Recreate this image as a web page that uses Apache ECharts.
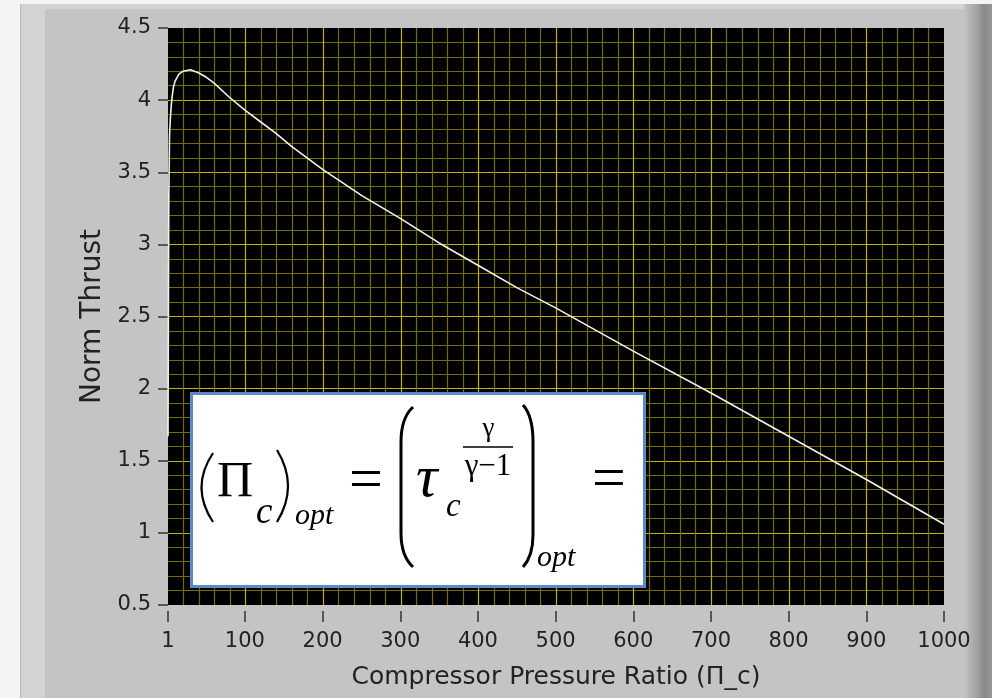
<!DOCTYPE html>
<html>
<head>
<meta charset="utf-8">
<title>Norm Thrust vs Compressor Pressure Ratio</title>
<script src="https://cdn.jsdelivr.net/npm/echarts@6/dist/echarts.min.js"></script>
<style>
  html, body { margin: 0; padding: 0; background: #f4f4f4; }
  #chart { width: 992px; height: 698px; }
</style>
</head>
<body>
<div id="chart"></div>
<script>
// values
const pressureRatio = [1, 2, 3, 4, 5, 6, 8, 10, 15, 20, 30, 40, 50, 60, 80, 100, 120, 140, 160, 180,
  200, 250, 300, 350, 400, 450, 500, 600, 700, 800, 900, 1000]
const normThrust = [1.67, 3.31, 3.76, 3.87, 3.95, 4.01, 4.09, 4.13, 4.18, 4.2, 4.21, 4.19, 4.16, 4.12, 4.02, 3.93, 3.85, 3.77, 3.68, 3.6,
  3.52, 3.34, 3.18, 3.01, 2.855, 2.7, 2.56, 2.26, 1.97, 1.67, 1.37, 1.06]
const xTickValues = [1, 100, 200, 300, 400, 500, 600, 700, 800, 900, 1000]

const chart = echarts.init(document.getElementById('chart'))

const majorGrid = '#bdb400'
const minorGrid = '#736d00'
const labelFont = 'DejaVu Sans'
const mathFont = 'Liberation Serif'

// panel frame behind the plot
const panel = [
  { type: 'rect', z: -10, silent: true, shape: { x: 20, y: 4, width: 972, height: 694 }, style: { fill: '#c4c4c4' } },
  { type: 'rect', z: -9, silent: true, shape: { x: 20, y: 4, width: 25, height: 694 }, style: { fill: '#d3d3d3' } },
  { type: 'rect', z: -9, silent: true, shape: { x: 20, y: 4, width: 1, height: 694 }, style: { fill: '#b8b8b8' } },
  { type: 'rect', z: -9, silent: true, shape: { x: 45, y: 4, width: 922, height: 5 }, style: { fill: '#d4d4d4' } },
  {
    type: 'rect', z: -9, silent: true,
    shape: { x: 964, y: 4, width: 28, height: 694 },
    style: {
      fill: new echarts.graphic.LinearGradient(0, 0, 1, 0, [
        { offset: 0, color: '#c4c4c4' },
        { offset: 0.55, color: '#9a9a9a' },
        { offset: 0.7, color: '#8a8a8a' },
        { offset: 1, color: '#979797' },
      ]),
    },
  },
]

// formula overlay
function mathText(text, x, y, size, italic, align) {
  return {
    type: 'text', z: 101, silent: true, x, y,
    style: {
      text, fill: '#000',
      fontFamily: mathFont, fontSize: size, fontStyle: italic ? 'italic' : 'normal',
      align: align || 'left', verticalAlign: 'middle',
    },
  }
}
const penStyle = (w) => ({ fill: null, stroke: '#000', lineWidth: w })
function curve(x1, y1, cx, cy, x2, y2, w) {
  return { type: 'bezierCurve', z: 101, silent: true, shape: { x1, y1, cpx1: cx, cpy1: cy, x2, y2 }, style: penStyle(w) }
}
function stroke(x1, y1, x2, y2, w) {
  return { type: 'line', z: 101, silent: true, shape: { x1, y1, x2, y2 }, style: penStyle(w) }
}

const formula = [
  { type: 'rect', z: 100, silent: true, shape: { x: 191.5, y: 393.5, width: 453, height: 193 }, style: { fill: '#fff', stroke: '#5a8ac8', lineWidth: 3 } },
  curve(213, 453, 190, 487.5, 213, 522, 2.2),
  mathText('Π', 217, 483, 50, false),
  mathText('c', 256, 513, 37, true),
  curve(277, 450, 299, 486, 277, 522, 2.2),
  mathText('opt', 295, 516, 30, true),
  mathText('=', 349, 482, 60, false),
  curve(413, 407, 401, 418, 401, 442, 3),
  stroke(401, 442, 401, 533, 3),
  curve(401, 533, 401, 556, 413, 567, 3),
  mathText('τ', 416, 480, 60, true),
  mathText('c', 446, 507, 33, true),
  mathText('γ', 488.5, 429, 27, false, 'center'),
  stroke(463, 447, 513, 447, 1.5),
  mathText('γ−1', 488, 467, 31, false, 'center'),
  curve(523, 405, 533, 416, 533, 442, 3),
  stroke(533, 442, 533, 535, 3),
  curve(533, 535, 533, 556, 523, 567, 3),
  mathText('opt', 537, 558, 30, true),
  mathText('=', 592, 481, 60, false),
]

const option = {
  backgroundColor: '#f4f4f4',
  animation: false,
  grid: {
    left: 168,
    right: 48,
    top: 28,
    bottom: 93,
    show: true,
    backgroundColor: '#000',
    borderWidth: 0,
  },
  xAxis: [
    {
      type: 'value',
      min: 1,
      max: 1000,
      offset: 6,
      name: 'Compressor Pressure Ratio (Π_c)',
      nameLocation: 'middle',
      nameGap: 54,
      nameTextStyle: { fontFamily: labelFont, fontSize: 25, color: '#222' },
      axisLine: { show: false },
      axisTick: { customValues: xTickValues, length: 11, lineStyle: { color: '#333', width: 1.5 } },
      axisLabel: {
        customValues: xTickValues, margin: 20, fontFamily: labelFont, fontSize: 21, color: '#222',
        formatter: (v) => String(v),
      },
      splitLine: { show: false },
    },
    {
      // grid lines only: bright every 100, dim every 20
      type: 'value',
      min: 0,
      max: 1000,
      interval: 100,
      axisLine: { show: false },
      axisTick: { show: false },
      axisLabel: { show: false },
      splitLine: { show: true, showMinLine: false, showMaxLine: false, lineStyle: { color: majorGrid, width: 1.2 } },
      minorTick: { show: false, splitNumber: 5 },
      minorSplitLine: { show: true, lineStyle: { color: minorGrid, width: 1.2 } },
    },
  ],
  yAxis: {
    type: 'value',
    min: 0.5,
    max: 4.5,
    interval: 0.5,
    offset: 4,
    name: 'Norm Thrust',
    nameLocation: 'middle',
    nameRotate: 90,
    nameGap: 57,
    nameTextStyle: { fontFamily: labelFont, fontSize: 28, color: '#222' },
    axisLine: { show: false },
    axisTick: { length: 10, lineStyle: { color: '#333', width: 1.5 } },
    axisLabel: { margin: 13, fontFamily: labelFont, fontSize: 21, color: '#222' },
    splitLine: { show: true, showMinLine: false, showMaxLine: false, lineStyle: { color: majorGrid, width: 1.2 } },
    minorTick: { show: false, splitNumber: 5 },
    minorSplitLine: { show: true, lineStyle: { color: minorGrid, width: 1.2 } },
  },
  series: [
    {
      type: 'line',
      xAxisIndex: 0,
      data: pressureRatio.map((p, i) => [p, normThrust[i]]),
      showSymbol: false,
      smooth: false,
      clip: true,
      lineStyle: { color: '#f2f2f2', width: 1.6 },
    },
  ],
  graphic: { elements: panel.concat(formula) },
}

chart.setOption(option)
</script>
</body>
</html>
